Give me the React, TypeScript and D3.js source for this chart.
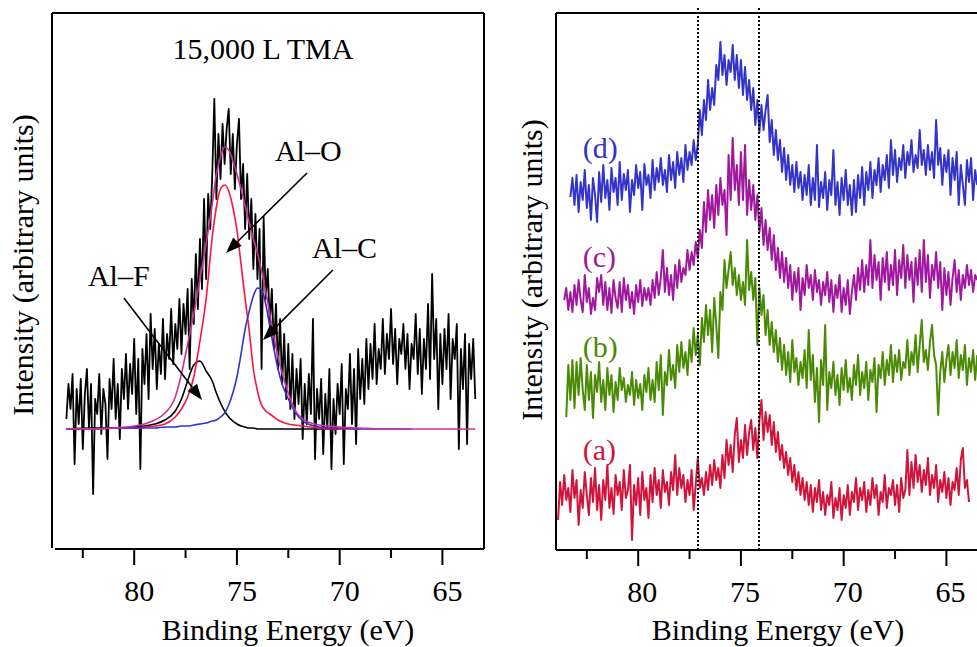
import React from "react";
import * as d3 from "d3";

const W = 977;
const H = 647;
const FONT = "'Liberation Serif', 'Times New Roman', serif";

// energy grid of the measured spectra (eV, decreasing)
const STEP = 0.1;

// ---- left panel: 15,000 L TMA, Al 2p region (intensity above fit baseline)
const LEFT_START = 83.3;
const leftData = [
  10, 45, 20, 55, -35, 40, 5, 50, -20, 35,
  60, 0, 45, -65, 30, 15, 55, -5, 40, 25,
  -30, 50, 20, 70, 10, 45, -10, 60, 30, 75,
  20, 65, 35, 90, 15, 70, -40, 80, 45, 95,
  30, 115, 60, 100, 40, 85, 55, 110, 50, 95,
  70, 120, 65, 105, 80, 130, 75, 125, 95, 140,
  60, 150, 105, 175, 120, 190, 140, 230, 150, 235,
  200, 255, 330, 230, 295, 250, 305, 265, 300, 320,
  255, 295, 240, 285, 310, 230, 265, 200, 255, 190,
  230, 160, 215, 150, 200, 60, 212, 130, 160, 105,
  140, 80, 125, 60, 110, 45, 95, 30, 85, 20,
  75, 10, 60, 25, 70, -10, 45, 5, 55, 15,
  110, -30, 40, 10, 50, -25, 35, 0, 60, -40,
  30, -5, 45, 15, 65, -35, 40, 20, 75, 5,
  60, -15, 80, 30, 70, 25, 90, 40, 85, 50,
  105, 45, 80, 60, 110, 55, 95, 70, 120, 65,
  100, 45, 90, 75, 105, 60, 95, 40, 85, 70,
  115, 55, 100, 35, 90, 60, 125, 50, 155, 70,
  110, 20, 95, 45, 100, 60, 115, 30, 90, 70,
  105, -20, 80, 40, 95, -15, 85, 50, 90, 30,
];

// fitted components, sampled at fitEnergy
const fitEnergy = [
  83.3, 82, 81, 80, 79.5, 79, 78.5, 78, 77.7, 77.4,
  77.1, 76.8, 76.5, 76.2, 76, 75.8, 75.6, 75.4, 75.2, 75,
  74.8, 74.6, 74.4, 74.2, 74, 73.8, 73.6, 73.4, 73.2, 73,
  72.8, 72.5, 72.2, 71.8, 71.4, 71, 70.5, 70, 69, 68,
  66.5, 63.4,
];
const fitEnvelope = [
  0, 0, 1, 3, 5, 9, 16, 32, 55, 85,
  115, 150, 185, 225, 255, 272, 282, 279, 268, 255,
  240, 223, 206, 190, 176, 158, 138, 115, 92, 72,
  56, 36, 20, 10, 6, 4, 3, 2, 1, 0,
  0, 0,
];
const fitAlO = [
  0, 0, 1, 1, 2, 3, 5, 12, 20, 32,
  52, 88, 130, 192, 222, 240, 244, 238, 222, 199,
  165, 130, 98, 60, 38, 24, 18, 15, 12, 9,
  7, 5, 4, 3, 2, 1, 0, 0, 0,
];
const fitAlC = [
  0, 0, 1, 1, 1, 1, 2, 2, 3, 3,
  4, 5, 6, 8, 9, 12, 16, 24, 36, 52,
  75, 100, 118, 133, 141, 139, 125, 103, 80, 60,
  45, 30, 18, 8, 4, 2, 1, 1, 0, 0,
  0,
];
const fitAlF = [
  0, 1, 1, 2, 3, 5, 9, 18, 30, 48,
  64, 68, 58, 48, 36, 26, 18, 12, 8, 5,
  3, 2, 1, 1, 0, 0, 0, 0, 0, 0,
  0, 0, 0, 0, 0, 0, 0, 0,
];

// ---- right panel: stacked spectra (a)-(d)
const startA = 83.9;
const traceA = [
  30, 68, 45, 75, 50, 62, 38, 80, 52, 70,
  25, 60, 42, 78, 55, 35, 72, 48, 82, 40,
  65, 30, 70, 50, 85, 42, 62, 36, 75, 55,
  68, 40, 80, 52, 60, 85, 10, 65, 45, 72,
  35, 78, 50, 62, 32, 75, 48, 82, 55, 70,
  42, 80, 58, 68, 45, 78, 60, 95, 55, 82,
  62, 75, 48, 70, 55, 80, 40, 65, 92, 62,
  72, 55, 78, 60, 85, 65, 90, 70, 82, 62,
  95, 72, 110, 85, 105, 78, 115, 132, 88, 110,
  92, 125, 95, 118, 130, 100, 122, 92, 130, 150,
  110, 138, 118, 135, 105, 128, 98, 118, 90, 105,
  82, 98, 75, 92, 68, 85, 60, 78, 55, 72,
  50, 68, 45, 65, 38, 62, 48, 70, 40, 58,
  35, 55, 45, 68, 32, 52, 40, 62, 30, 55,
  42, 65, 35, 58, 48, 72, 40, 62, 50, 68,
  38, 60, 45, 72, 52, 65, 35, 58, 48, 75,
  42, 62, 55, 70, 45, 65, 38, 72, 52, 60,
  100, 55, 88, 62, 95, 68, 85, 58, 80, 65,
  92, 55, 75, 62, 85, 48, 70, 58, 78, 52,
  72, 45, 68, 60, 82, 55, 90, 102, 62, 70,
  48,
];
const startB = 83.5;
const traceB = [
  133, 185, 150, 190, 142, 188, 155, 192, 160, 140,
  185, 150, 178, 132, 175, 158, 188, 148, 170, 140,
  182, 155, 175, 138, 168, 150, 182, 160, 172, 148,
  165, 155, 178, 145, 170, 152, 166, 140, 175, 158,
  182, 150, 170, 148, 188, 160, 195, 135, 178, 165,
  200, 170, 185, 162, 205, 178, 208, 182, 198, 175,
  210, 188, 222, 195, 215, 185, 232, 208, 245, 215,
  240, 198, 252, 225, 192, 258, 240, 290, 262, 280,
  298, 265, 282, 255, 275, 250, 268, 245, 310, 260,
  278, 250, 272, 205, 262, 235, 255, 215, 240, 205,
  228, 198, 220, 188, 212, 180, 205, 175, 198, 168,
  210, 178, 192, 165, 188, 172, 200, 162, 220, 170,
  195, 148, 182, 128, 190, 165, 225, 140, 178, 162,
  188, 155, 175, 145, 182, 160, 190, 158, 172, 150,
  185, 165, 195, 155, 178, 162, 188, 150, 180, 168,
  192, 138, 185, 172, 198, 165, 190, 175, 205, 168,
  195, 178, 200, 170, 188, 182, 210, 175, 198, 185,
  215, 178, 205, 230, 188, 200, 180, 208, 225, 195,
  185, 135, 178, 198, 168, 190, 205, 175, 198, 182,
  210, 172, 195, 180, 205, 165, 192, 178, 200, 170,
  195,
];
const startC = 83.6;
const traceC = [
  250, 262, 240, 258, 238, 265, 245, 270, 250, 238,
  275, 248, 262, 236, 252, 240, 272, 258, 275, 245,
  268, 240, 262, 237, 270, 252, 242, 268, 238, 272,
  250, 265, 242, 258, 236, 265, 248, 270, 244, 262,
  250, 262, 245, 270, 252, 278, 255, 272, 300, 258,
  282, 255, 275, 250, 285, 262, 290, 268, 282, 275,
  300, 280, 298, 285, 308, 292, 320, 302, 348, 318,
  360, 330, 355, 322, 365, 335, 372, 345, 360, 315,
  395, 350, 412, 360, 385, 345, 398, 350, 405, 335,
  370, 340, 365, 330, 355, 318, 342, 305, 330, 300,
  322, 290, 315, 280, 302, 272, 298, 268, 292, 262,
  285, 250, 278, 258, 282, 240, 272, 255, 285, 262,
  275, 250, 280, 258, 270, 245, 268, 255, 278, 248,
  270, 238, 265, 252, 275, 238, 262, 245, 270, 236,
  258, 275, 250, 282, 260, 290, 258, 285, 265, 310,
  262, 295, 270, 288, 250, 292, 268, 298, 260, 285,
  265, 300, 255, 290, 272, 305, 262, 295, 270, 288,
  248, 292, 265, 300, 258, 310, 268, 295, 252, 285,
  270, 298, 262, 288, 240, 282, 255, 278, 245, 272,
  290, 258, 280, 250, 275, 262, 285, 265, 280, 258,
  275, 270,
];
const startD = 83.3;
const traceD = [
  353, 372, 345, 375, 338, 368, 350, 380, 342, 365,
  330, 372, 355, 328, 378, 348, 385, 352, 370, 340,
  382, 358, 372, 345, 388, 350, 376, 360, 380, 338,
  370, 355, 385, 362, 378, 340, 386, 365, 375, 352,
  390, 360, 382, 368, 392, 365, 380, 358, 395, 370,
  388, 362, 398, 375, 392, 368, 405, 380, 398, 385,
  410, 390, 405, 440, 415, 450, 430, 470, 440, 462,
  445, 485, 470, 508, 475, 495, 465, 490, 478, 505,
  470, 495, 462, 490, 455, 483, 450, 470, 440, 462,
  425, 450, 418, 445, 420, 440, 455, 408, 430, 395,
  420, 390, 410, 378, 402, 370, 395, 365, 385, 358,
  388, 362, 378, 350, 375, 355, 385, 345, 372, 350,
  405, 343, 368, 352, 378, 340, 370, 355, 400, 345,
  368, 335, 372, 350, 380, 345, 365, 335, 370, 338,
  375, 352, 383, 345, 378, 360, 388, 352, 380, 365,
  392, 358, 385, 370, 395, 362, 410, 375, 400, 368,
  392, 380, 405, 372, 398, 385, 410, 378, 395, 382,
  420, 385, 400, 375, 405, 380, 398, 372, 430, 385,
  402, 365, 395, 378, 400, 355, 392, 370, 398, 345,
  385, 365, 345, 390, 368, 392, 350, 380, 365,
];

const traceLabels = ["(a)", "(b)", "(c)", "(d)"];
const traceColors = ["#d0143a", "#4b8a05", "#a0189e", "#3434c8"];
const labelLevels = [90, 193, 283, 392];
const markerLines = [77.08, 74.1];

const majorTicks = [80, 75, 70, 65];
const minorTicks = [82.5, 77.5, 72.5, 67.5];

const xLeft = d3.scaleLinear().domain([84, 63]).range([52, 483.5]);
const yLeft = d3.scaleLinear().domain([-120, 416]).range([549, 13]);
const xRight = d3.scaleLinear().domain([84, 63]).range([556, 987.5]);
const yRight = d3.scaleLinear().domain([0, 537]).range([550, 13]);

const energyOf = (start: number) => (_: number, i: number) => start - i * STEP;

function Arrow({ x1, y1, x2, y2 }: { x1: number; y1: number; x2: number; y2: number }) {
  const dx = x2 - x1;
  const dy = y2 - y1;
  const len = Math.hypot(dx, dy);
  const ux = dx / len;
  const uy = dy / len;
  const hl = 16;
  const hw = 6;
  const bx = x2 - ux * hl;
  const by = y2 - uy * hl;
  const pts = [
    [x2, y2],
    [bx - uy * hw, by + ux * hw],
    [bx + uy * hw, by - ux * hw],
  ];
  return (
    <g>
      <line x1={x1} y1={y1} x2={bx} y2={by} stroke="#000" strokeWidth={1.6} />
      <polygon points={pts.map((p) => p.join(",")).join(" ")} fill="#000" />
    </g>
  );
}

function XAxis({ x, y, x0, x1, dx }: { x: d3.ScaleLinear<number, number>; y: number; x0: number; x1: number; dx: number }) {
  return (
    <g>
      <line x1={x0} x2={x1} y1={y} y2={y} stroke="#000" strokeWidth={2} />
      {majorTicks.map((t) => (
        <g key={"M" + t}>
          <line x1={x(t)} x2={x(t)} y1={y} y2={y + 16} stroke="#000" strokeWidth={2} />
          <text x={x(t) + dx} y={y + 52} textAnchor="middle" fontSize={30} fontFamily={FONT}>
            {t}
          </text>
        </g>
      ))}
      {minorTicks.map((t) => (
        <line key={"m" + t} x1={x(t)} x2={x(t)} y1={y} y2={y + 9} stroke="#000" strokeWidth={2} />
      ))}
    </g>
  );
}

export default function App() {
  const leftLine = d3
    .line<number>()
    .x((d, i) => xLeft(energyOf(LEFT_START)(d, i)))
    .y((d) => yLeft(d));

  const fitLine = (vals: number[]) =>
    d3
      .line<number>()
      .x((_, i) => xLeft(fitEnergy[i]))
      .y((d) => yLeft(d))
      .curve(d3.curveMonotoneX)(vals) || "";

  const rightLine = (start: number) =>
    d3
      .line<number>()
      .x((d, i) => xRight(energyOf(start)(d, i)))
      .y((d) => yRight(d));

  const traces = [
    { start: startA, values: traceA },
    { start: startB, values: traceB },
    { start: startC, values: traceC },
    { start: startD, values: traceD },
  ];

  const fits = [
    { values: fitAlF, color: "#000000" },
    { values: fitAlO, color: "#ff1240" },
    { values: fitAlC, color: "#3232d2" },
    { values: fitEnvelope, color: "#cc3399" },
  ];

  return (
    <>
      <style>{`body{margin:0}`}</style>
      <svg width={W} height={H} style={{ display: "block", background: "#fff" }} fontFamily={FONT}>
        {/* ---------- left panel ---------- */}
        <g>
          <line x1={52} x2={52} y1={13} y2={548} stroke="#000" strokeWidth={2} />
          <line x1={52} x2={484} y1={13} y2={13} stroke="#000" strokeWidth={2} />
          <line x1={484} x2={484} y1={13} y2={549} stroke="#000" strokeWidth={2} />
          <XAxis x={xLeft} y={549} x0={55} x1={484} dx={5} />

          <path d={leftLine(leftData) || ""} fill="none" stroke="#000" strokeWidth={1.8} strokeLinejoin="round" />
          {fits.map((f, i) => (
            <path key={i} d={fitLine(f.values)} fill="none" stroke={f.color} strokeWidth={1.6} />
          ))}

          <text x={263} y={59} textAnchor="middle" fontSize={30}>
            15,000 L TMA
          </text>

          <text x={xLeft(73.15)} y={yLeft(268)} fontSize={30}>Al–O</text>
          <text x={xLeft(71.35)} y={yLeft(171)} fontSize={30}>Al–C</text>
          <text x={xLeft(82.25)} y={yLeft(143)} fontSize={30}>Al–F</text>
          <Arrow x1={xLeft(71.59)} y1={yLeft(256)} x2={xLeft(75.53)} y2={yLeft(176)} />
          <Arrow x1={xLeft(70.33)} y1={yLeft(159)} x2={xLeft(73.73)} y2={yLeft(89)} />
          <Arrow x1={xLeft(80.5)} y1={yLeft(131)} x2={xLeft(76.7)} y2={yLeft(29)} />

          <text transform="translate(33,265) rotate(-90)" textAnchor="middle" fontSize={30}>
            Intensity (arbitrary units)
          </text>
          <text x={288} y={640} textAnchor="middle" fontSize={30}>
            Binding Energy (eV)
          </text>
        </g>

        {/* ---------- right panel ---------- */}
        <g>
          <line x1={556} x2={556} y1={13} y2={550} stroke="#000" strokeWidth={2} />
          <line x1={556} x2={W} y1={13} y2={13} stroke="#000" strokeWidth={2} />
          <XAxis x={xRight} y={550} x0={556} x1={W} dx={4} />

          {traces.map((t, i) => (
            <path
              key={i}
              d={rightLine(t.start)(t.values) || ""}
              fill="none"
              stroke={traceColors[i]}
              strokeWidth={2}
              strokeLinejoin="round"
            />
          ))}

          {markerLines.map((e) => (
            <line
              key={e}
              x1={Math.round(xRight(e))}
              x2={Math.round(xRight(e))}
              y1={8}
              y2={550}
              stroke="#000"
              strokeWidth={2}
              strokeDasharray="2,2"
            />
          ))}

          {traceLabels.map((l, i) => (
            <text key={l} x={xRight(82.7)} y={yRight(labelLevels[i])} fontSize={30} fill={traceColors[i]}>
              {l}
            </text>
          ))}

          <text transform="translate(542,270) rotate(-90)" textAnchor="middle" fontSize={30}>
            Intensity (arbitrary units)
          </text>
          <text x={778} y={640} textAnchor="middle" fontSize={30}>
            Binding Energy (eV)
          </text>
        </g>
      </svg>
    </>
  );
}
